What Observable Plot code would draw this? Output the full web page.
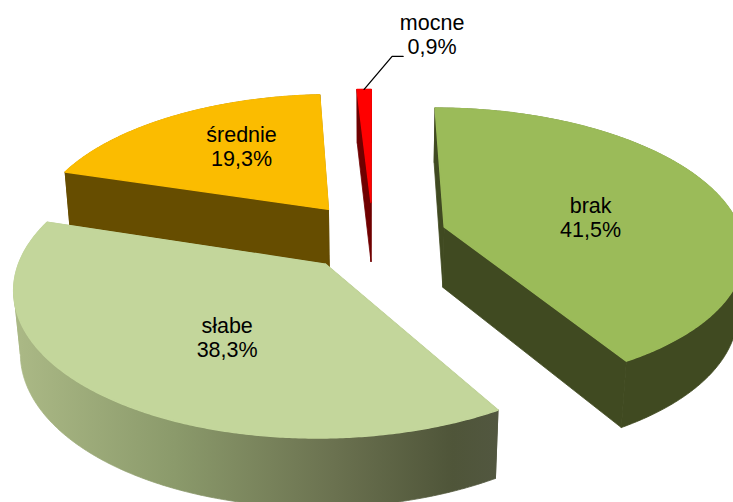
<!DOCTYPE html>
<html lang="pl">
<head>
<meta charset="utf-8">
<script src="https://cdn.jsdelivr.net/npm/d3@7"></script>
<script src="https://cdn.jsdelivr.net/npm/@observablehq/plot@0.6"></script>
<style>
html,body{margin:0;padding:0;background:#fff;overflow:hidden}
</style>
</head>
<body>
<div id="chart"></div>
<script>
// data
const categories = ["brak", "słabe", "średnie", "mocne"];
const shares = [41.5, 38.3, 19.3, 0.9];
const valueLabels = ["41,5%", "38,3%", "19,3%", "0,9%"];

// styles
const topColors = ["#9BBB59", "#C3D69B", "#FBBC00", "#FF0000"];
const wallColors = ["#404A21", "url(#slabeWall)", "#664D00", "#700000"];

// projection of the exploded, tilted disc
const view = {x0: 372.5, y0: 235.5, R: 298, r: 139, k: 0.148, explode: 0.25, drop: 62, shrink: 0.018};
function project(U, V, low) {
  const w = 1 - view.k * V + (low ? view.shrink : 0);
  return {
    x: view.x0 + view.R * U / w,
    y: view.y0 + (view.r * V + (low ? view.drop : 0)) / w
  };
}

// slice angles from the shares
let running = 0;
const slices = categories.map((name, i) => {
  const a0 = running / 100 * 360;
  running += shares[i];
  const a1 = running / 100 * 360;
  const mid = (a0 + a1) / 2 * Math.PI / 180;
  return {name, i, a0, a1,
    ou: view.explode * Math.sin(mid),
    ov: -view.explode * Math.cos(mid),
    mid};
});
function planeAt(s, deg, f = 1) {
  const t = deg * Math.PI / 180;
  return [s.ou + f * Math.sin(t), s.ov - f * Math.cos(t)];
}
function rim(s, low) {
  const n = Math.max(2, Math.ceil(s.a1 - s.a0) * 2);
  return d3.range(n + 1).map(j => {
    const [U, V] = planeAt(s, s.a0 + (s.a1 - s.a0) * j / n);
    return project(U, V, low);
  });
}
const apex = (s, low) => project(s.ou, s.ov, low);

const marks = [];
const wallSeam = 0.8, faceSeam = 1.4;
function drawSlice(s) {
  const top = rim(s, false), bot = rim(s, true);
  const wall = wallColors[s.i], face = topColors[s.i];
  const solid = (pts, colour, width) => marks.push(Plot.line(pts, {x: "x", y: "y", fill: colour, stroke: colour, strokeWidth: width}));
  // outer wall, split where the rim turns at its left and right extremes
  const last = top.length - 1;
  const cuts = [...new Set([0, d3.minIndex(top, p => p.x), d3.maxIndex(top, p => p.x), last])].sort((a, b) => a - b);
  d3.pairs(cuts).forEach(([a, b]) => {
    solid([...top.slice(a, b + 1), ...bot.slice(a, b + 1).reverse(), top[a]], wall, wallSeam);
  });
  // the two cut faces
  solid([apex(s, false), top[0], bot[0], apex(s, true), apex(s, false)], wall, wallSeam);
  solid([apex(s, false), top[last], bot[last], apex(s, true), apex(s, false)], wall, wallSeam);
  // top face
  solid([apex(s, false), ...top, apex(s, false)], face, faceSeam);
}
// back to front
[2, 3, 0, 1].forEach(i => drawSlice(slices[i]));

// leader of the smallest slice
const mocne = slices[3];
const [lu, lv] = planeAt(mocne, (mocne.a0 + mocne.a1) / 2);
const leaderStart = project(lu, lv, false);
const leader = [
  leaderStart,
  {x: leaderStart.x + 28, y: leaderStart.y - 33},
  {x: leaderStart.x + 39, y: leaderStart.y - 33}
];
marks.push(Plot.line(leader, {x: "x", y: "y", stroke: "#000", strokeWidth: 1.3}));

// labels: anchored on each slice's bisector, nudged in pixels
const labelAt = [0.53, 0.5, 0.5, 1];
const labelShift = [[0, 9], [6, 12], [-5, -14], [68, -55]];
const labels = slices.map((s, i) => {
  const [U, V] = planeAt(s, (s.a0 + s.a1) / 2, labelAt[i]);
  const p = project(U, V, false);
  return {x: p.x + labelShift[i][0], y: p.y + labelShift[i][1], text: categories[i] + "\n" + valueLabels[i]};
});
marks.push(Plot.text(labels, {
  x: "x", y: "y", text: "text", fill: "#000",
  fontSize: 21.5, fontFamily: "'Liberation Sans', Arial, sans-serif",
  lineHeight: 1.13, textAnchor: "middle", lineAnchor: "middle"
}));

const chart = Plot.plot({
  width: 733, height: 502,
  margin: 0, marginTop: 0, marginRight: 0, marginBottom: 0, marginLeft: 0,
  x: {type: "linear", domain: [0, 733], range: [0, 733], axis: null},
  y: {type: "linear", domain: [0, 502], range: [0, 502], axis: null},
  marks
});

// gradient for the wall of the light-green slice
const defs = d3.select(chart).insert("defs", ":first-child");
const grad = defs.append("linearGradient")
  .attr("id", "slabeWall").attr("gradientUnits", "userSpaceOnUse")
  .attr("x1", 20).attr("y1", 0).attr("x2", 500).attr("y2", 0);
[[0, "#AAB885"], [0.32, "#8B9A6B"], [0.65, "#6B7250"], [0.9, "#4F5539"], [1, "#525740"]]
  .forEach(([o, c]) => grad.append("stop").attr("offset", o).attr("stop-color", c));

document.getElementById("chart").append(chart);
</script>
</body>
</html>
